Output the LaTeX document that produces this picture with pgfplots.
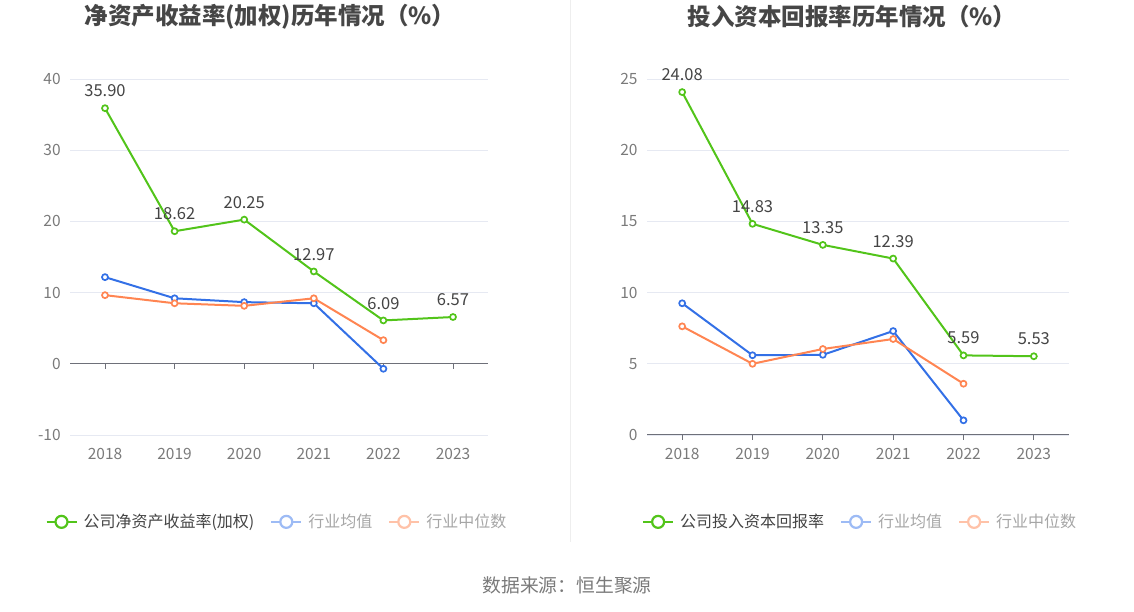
\documentclass[border=0pt]{standalone}
\usepackage{pgfplots}
\pgfplotsset{compat=1.18}
\usepackage{fontspec}
\setmainfont{Noto Sans CJK SC}
\definecolor{cgreen}{HTML}{52C41A}
\definecolor{cblue}{HTML}{3370E6}
\definecolor{corange}{HTML}{FF8552}
\definecolor{lblue}{HTML}{9DBBF5}
\definecolor{lorange}{HTML}{FFC2A8}
\definecolor{gridc}{HTML}{E6E9F2}
\definecolor{axisc}{HTML}{6E7079}
\definecolor{tickc}{HTML}{7A7A7A}
\definecolor{titlec}{HTML}{464646}
\definecolor{labelc}{HTML}{444444}
\definecolor{divc}{HTML}{EEEEEE}
\pgfplotsset{
  base/.style={
    scale only axis, anchor=south west,
    xmin=-0.5, xmax=5.5, xtick={0,...,5},
    xticklabels={2018,2019,2020,2021,2022,2023},
    axis line style={draw=none}, major tick length=0pt,
    ymajorgrids, grid style={gridc, line width=0.8pt},
    tick label style={font=\fontsize{15.5}{15.5}\selectfont, color=tickc},
    /pgf/number format/assume math mode=true,
    xticklabel style={yshift=-10pt},
    yticklabel style={xshift=-6pt},
    clip=false,
    legend columns=3,
    legend style={draw=none, fill=none, font=\fontsize{16}{16}\selectfont, anchor=center,
      /tikz/every odd column/.append style={column sep=4pt},
      /tikz/every even column/.append style={column sep=14pt}},
    legend cell align=left,
  },
  ser/.style={line width=2pt, color=#1, mark=*, mark size=3pt, mark options={fill=white, line width=1.7pt}},
  lg/.style={legend image code/.code={
    \draw[line width=2pt, color=#1] (0pt,0pt) -- (30pt,0pt);
    \draw[line width=2.2pt, color=#1, fill=white] (15pt,0pt) circle (6pt);}},
  lab/.style={nodes near coords, point meta=explicit symbolic,
    every node near coord/.style={font=\fontsize{16.5}{16.5}\selectfont, color=labelc, anchor=south, yshift=7pt}},
}
\begin{document}
\begin{tikzpicture}[x=1pt,y=1pt]
\path[use as bounding box] (0,0) rectangle (1134,612);
\draw[divc, line width=1pt] (570,612) -- (570,70);
\node[font=\fontsize{23.5}{23.5}\selectfont\bfseries, color=titlec] at (270,595) {净资产收益率(加权)历年情况（\%）};
\node[font=\fontsize{23.5}{23.5}\selectfont\bfseries, color=titlec] at (852,595) {投入资本回报率历年情况（\%）};
\node[font=\fontsize{18.8}{18.8}\selectfont, color=tickc] at (567,27) {数据来源：恒生聚源};

\begin{axis}[base, at={(70.2pt,177pt)}, width=417.6pt, height=356pt,
  ymin=-10, ymax=40, ytick={-10,0,10,20,30,40},
  legend style={at={(0.495,-0.244)}}]
\pgfplotsinvokeforeach{0,...,5}{\draw[axisc, line width=1pt] (axis cs:#1,0) -- ([yshift=-5pt]axis cs:#1,0);}
\draw[axisc, line width=1pt] (axis cs:-0.5,0) -- (axis cs:5.5,0);
\addplot[ser=cblue, forget plot] coordinates {(0,12.17) (1,9.2) (2,8.66) (3,8.5) (4,-0.7)};
\addplot[ser=corange, forget plot] coordinates {(0,9.64) (1,8.5) (2,8.14) (3,9.2) (4,3.32)};
\addplot[ser=cgreen, lab, forget plot] coordinates {(0,35.90)[35.90] (1,18.62)[18.62] (2,20.25)[20.25] (3,12.97)[12.97] (4,6.09)[6.09] (5,6.57)[6.57]};
\addlegendimage{lg=cgreen}
\addlegendentry[text=labelc]{公司净资产收益率(加权)}
\addlegendimage{lg=lblue}
\addlegendentry[text=gray!70]{行业均值}
\addlegendimage{lg=lorange}
\addlegendentry[text=gray!70]{行业中位数}
\end{axis}

\begin{axis}[base, at={(647pt,177pt)}, width=422pt, height=356pt,
  ymin=0, ymax=25, ytick={0,5,10,15,20,25},
  legend style={at={(0.505,-0.244)}}]
\pgfplotsinvokeforeach{0,...,5}{\draw[axisc, line width=1pt] (axis cs:#1,0) -- ([yshift=-5pt]axis cs:#1,0);}
\draw[axisc, line width=1pt] (axis cs:-0.5,0) -- (axis cs:5.5,0);
\addplot[ser=cblue, forget plot] coordinates {(0,9.25) (1,5.6) (2,5.63) (3,7.3) (4,1.03)};
\addplot[ser=corange, forget plot] coordinates {(0,7.63) (1,5.0) (2,6.04) (3,6.74) (4,3.6)};
\addplot[ser=cgreen, lab, forget plot] coordinates {(0,24.08)[24.08] (1,14.83)[14.83] (2,13.35)[13.35] (3,12.39)[12.39] (4,5.59)[5.59] (5,5.53)[5.53]};
\addlegendimage{lg=cgreen}
\addlegendentry[text=labelc]{公司投入资本回报率}
\addlegendimage{lg=lblue}
\addlegendentry[text=gray!70]{行业均值}
\addlegendimage{lg=lorange}
\addlegendentry[text=gray!70]{行业中位数}
\end{axis}
\end{tikzpicture}
\end{document}
